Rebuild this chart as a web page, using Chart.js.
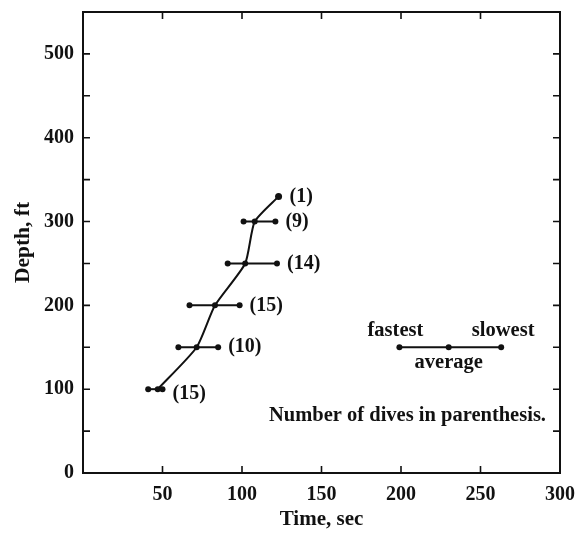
<!DOCTYPE html>
<html>
<head>
<meta charset="utf-8">
<script src="https://cdn.jsdelivr.net/npm/chart.js@4"></script>
<style>
  html, body { margin: 0; padding: 0; background: #fff; }
  #wrap { width: 585px; height: 537px; }
</style>
</head>
<body>
<div id="wrap"><canvas id="chart" width="585" height="537"></canvas></div>
<script>
// depth rows (ft) and dive times (sec)
const depths  = [100, 150, 200, 250, 300];
const fastest = [41, 60, 67, 91, 101];
const average = [47, 71.5, 83, 102, 108];
const slowest = [50, 85, 98.5, 122, 121];
const dives   = [15, 10, 15, 14, 9];

// deepest single dive
const deepDepth = 330;
const deepTime = 123;
const deepDives = 1;

// key: fastest / average / slowest
const keyDepth = 150;
const keyTimes = [199, 230, 263];
const keyLabels = ['fastest', 'average', 'slowest'];

const note = 'Number of dives in parenthesis.';

const xTicks = [0, 50, 100, 150, 200, 250, 300];
const yTicks = [0, 50, 100, 150, 200, 250, 300, 350, 400, 450, 500, 550];

const FONT = '"Liberation Serif", "DejaVu Serif", serif';
const ink = '#111';

const datasets = [];
depths.forEach((d, i) => {
  datasets.push({
    data: [{ x: fastest[i], y: d }, { x: average[i], y: d }, { x: slowest[i], y: d }],
    showLine: true, borderColor: ink, borderWidth: 2,
    pointRadius: 3, pointBackgroundColor: ink, pointBorderWidth: 0
  });
});
// curve through the averages
const curve = depths.map((d, i) => ({ x: average[i], y: d }));
curve.push({ x: deepTime, y: deepDepth });
datasets.push({
  data: curve, showLine: true, borderColor: ink, borderWidth: 2, tension: 0.2,
  pointRadius: curve.map((p, i) => i === curve.length - 1 ? 3.5 : 0),
  pointBackgroundColor: ink, pointBorderWidth: 0
});
// key
datasets.push({
  data: keyTimes.map(t => ({ x: t, y: keyDepth })),
  showLine: true, borderColor: ink, borderWidth: 2,
  pointRadius: 3, pointBackgroundColor: ink, pointBorderWidth: 0
});

const decorations = {
  id: 'decorations',
  afterDraw(chart) {
    const { ctx, chartArea: a, scales: { x, y } } = chart;
    ctx.save();
    ctx.strokeStyle = ink;
    ctx.lineWidth = 2;
    ctx.strokeRect(a.left, a.top, a.right - a.left, a.bottom - a.top);
    // inward ticks on all four sides
    ctx.lineWidth = 1.6;
    ctx.beginPath();
    xTicks.slice(1, -1).forEach(v => {
      const px = x.getPixelForValue(v);
      ctx.moveTo(px, a.bottom); ctx.lineTo(px, a.bottom - 7);
      ctx.moveTo(px, a.top); ctx.lineTo(px, a.top + 7);
    });
    yTicks.slice(1).forEach(v => {
      const py = y.getPixelForValue(v);
      ctx.moveTo(a.left, py); ctx.lineTo(a.left + 7, py);
      ctx.moveTo(a.right, py); ctx.lineTo(a.right - 7, py);
    });
    ctx.stroke();

    ctx.fillStyle = ink;
    ctx.font = 'bold 20px ' + FONT;
    ctx.textBaseline = 'middle';
    ctx.textAlign = 'left';
    depths.forEach((d, i) => {
      const off = i === 0 ? 5 : 0;
      ctx.fillText('(' + dives[i] + ')', x.getPixelForValue(slowest[i]) + 10, y.getPixelForValue(d) + off);
    });
    ctx.fillText('(' + deepDives + ')', x.getPixelForValue(deepTime) + 11, y.getPixelForValue(deepDepth));

    // key labels
    ctx.font = 'bold 20.5px ' + FONT;
    ctx.textAlign = 'center';
    const ky = y.getPixelForValue(keyDepth);
    ctx.fillText(keyLabels[0], x.getPixelForValue(keyTimes[0]) - 4, ky - 17);
    ctx.fillText(keyLabels[2], x.getPixelForValue(keyTimes[2]) + 2, ky - 17);
    ctx.fillText(keyLabels[1], x.getPixelForValue(keyTimes[1]), ky + 15);

    ctx.textAlign = 'left';
    ctx.fillText(note, x.getPixelForValue(117), y.getPixelForValue(68));
    ctx.restore();
  }
};

new Chart(document.getElementById('chart'), {
  type: 'scatter',
  data: { datasets },
  plugins: [decorations],
  options: {
    responsive: false,
    animation: false,
    layout: { padding: { top: 12, right: 25, left: 0, bottom: 0 } },
    plugins: { legend: { display: false }, tooltip: { enabled: false } },
    scales: {
      x: {
        type: 'linear', min: 0, max: 300,
        afterFit: s => { s.height = 64; s.paddingLeft = 0; s.paddingRight = 0; },
        grid: { display: false, drawTicks: false },
        border: { display: false },
        ticks: {
          stepSize: 50, padding: 10, color: ink,
          font: { family: FONT, size: 20, weight: 'bold' },
          callback: v => v === 0 ? '' : v
        },
        title: {
          display: true, text: 'Time, sec', color: ink,
          font: { family: FONT, size: 21, weight: 'bold' },
          padding: { top: 0, bottom: 5 }
        }
      },
      y: {
        type: 'linear', min: 0, max: 550,
        afterFit: s => { s.width = 83; s.paddingTop = 0; s.paddingBottom = 0; },
        grid: { display: false, drawTicks: false },
        border: { display: false },
        ticks: {
          stepSize: 50, padding: 9, color: ink,
          font: { family: FONT, size: 20, weight: 'bold' },
          callback: v => v % 100 === 0 ? v : ''
        },
        title: {
          display: true, text: 'Depth, ft', color: ink,
          font: { family: FONT, size: 21.5, weight: 'bold' },
          padding: { top: 11, bottom: 0 }
        }
      }
    }
  }
});
</script>
</body>
</html>
